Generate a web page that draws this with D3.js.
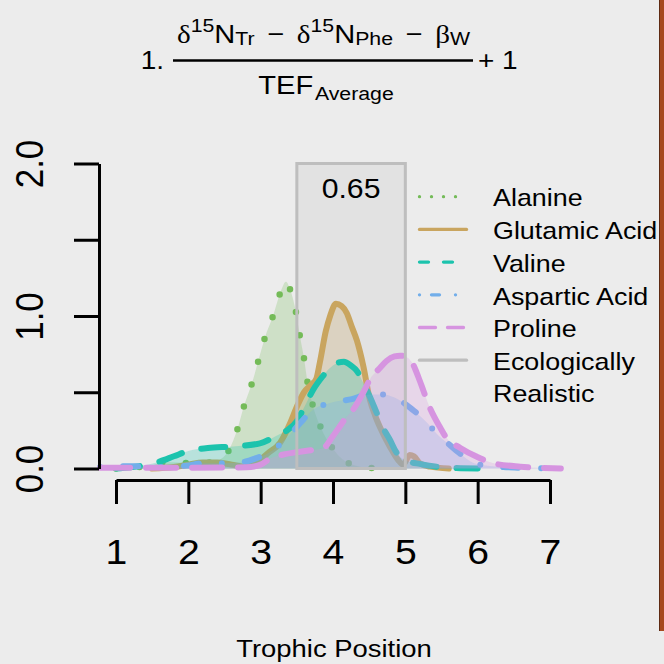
<!DOCTYPE html>
<html>
<head>
<meta charset="utf-8">
<script src="https://cdn.jsdelivr.net/npm/d3@7"></script>
<style>
  html, body { margin: 0; padding: 0; background: #ececec; }
  svg { display: block; font-family: "Liberation Sans", Arial, sans-serif; }
</style>
</head>
<body>
<svg id="chart" width="664" height="664"></svg>
<script>
// density curves: [trophic position, density]
var alanine = [[1.0,0.0],[1.3,0.008],[1.5,0.02],[1.66,0.042],[2.0,0.036],[2.32,0.04],[2.46,0.065],[2.56,0.12],[2.68,0.26],[2.77,0.41],[2.88,0.56],[2.97,0.71],[3.06,0.86],[3.17,1.0],[3.27,1.15],[3.35,1.225],[3.41,1.17],[3.49,1.02],[3.54,0.875],[3.6,0.72],[3.65,0.56],[3.72,0.415],[3.83,0.27],[4.0,0.13],[4.24,0.03],[4.5,0.005],[4.8,0.0]];
var glutamicAcid = [[1.5,0.0],[1.8,0.01],[2.0,0.025],[2.2,0.04],[2.4,0.04],[2.6,0.025],[2.8,0.012],[2.95,0.04],[3.1,0.1],[3.27,0.17],[3.41,0.3],[3.5,0.405],[3.6,0.5],[3.7,0.55],[3.77,0.59],[3.82,0.7],[3.9,0.9],[3.96,1.0],[4.04,1.08],[4.12,1.065],[4.19,1.02],[4.26,0.93],[4.33,0.84],[4.42,0.67],[4.51,0.45],[4.58,0.35],[4.65,0.27],[4.79,0.14],[4.9,0.056],[4.97,0.025],[5.06,0.088],[5.12,0.08],[5.2,0.034],[5.34,0.012],[5.6,0.0]];
var valine = [[1.0,0.0],[1.2,0.008],[1.42,0.023],[1.6,0.045],[1.8,0.08],[2.0,0.115],[2.27,0.134],[2.62,0.145],[2.99,0.165],[3.22,0.215],[3.38,0.255],[3.5,0.31],[3.6,0.4],[3.73,0.52],[3.85,0.6],[3.95,0.655],[4.05,0.69],[4.15,0.7],[4.25,0.675],[4.33,0.64],[4.42,0.56],[4.51,0.47],[4.6,0.37],[4.7,0.26],[4.79,0.185],[4.87,0.11],[4.93,0.075],[5.05,0.045],[5.2,0.03],[5.43,0.012],[5.7,0.003],[6.0,0.0]];
var asparticAcid = [[0.78,0.01],[1.2,0.015],[1.6,0.01],[2.0,0.02],[2.2,0.035],[2.45,0.035],[2.78,0.045],[2.95,0.07],[3.1,0.1],[3.25,0.15],[3.4,0.22],[3.55,0.3],[3.71,0.38],[3.96,0.43],[4.26,0.455],[4.5,0.485],[4.7,0.485],[4.85,0.465],[5.09,0.39],[5.3,0.3],[5.45,0.22],[5.6,0.16],[5.75,0.1],[5.95,0.035],[6.2,0.015],[6.6,0.005],[7.0,0.0]];
var proline = [[0.78,0.005],[2.0,0.005],[2.8,0.008],[3.0,0.025],[3.13,0.065],[3.3,0.09],[3.54,0.11],[3.7,0.12],[3.87,0.135],[3.98,0.2],[4.1,0.28],[4.19,0.34],[4.26,0.375],[4.42,0.5],[4.53,0.6],[4.63,0.65],[4.74,0.705],[4.85,0.735],[4.93,0.74],[5.02,0.73],[5.11,0.68],[5.18,0.6],[5.25,0.51],[5.32,0.42],[5.48,0.27],[5.57,0.2],[5.76,0.135],[5.99,0.077],[6.22,0.034],[6.59,0.012],[6.9,0.004],[7.15,0.0]];

var seriesData = [alanine, glutamicAcid, valine, asparticAcid, proline];
var legendLabels = ["Alanine", "Glutamic Acid", "Valine", "Aspartic Acid", "Proline", "Ecologically", "Realistic"];

var xTicks = [1, 2, 3, 4, 5, 6, 7];
var yTicks = [0, 0.5, 1, 1.5, 2];
var yTickLabels = ["0.0", "", "1.0", "", "2.0"];

var realisticRange = [3.5, 5.0]; // ecologically realistic band
var realisticLabel = "0.65";
var xTitle = "Trophic Position";

// styles
var lineColors = ["#74bb58", "#c9a55f", "#1cc3ad", "#72aeea", "#d694e0", "#bebebe"];
var curveWidth = [6.5, 6, 6, 6, 6];
var curveDash = ["0 23.5", null, "24 20", "0 23 15 23", "30 16"];
var legendDash = ["0 12", null, "9 15", "0 12 8 16", "16 12", null];
var sx = 1.12; // text is a bit wide in the original

var svg = d3.select("#chart");

var x = d3.scaleLinear().domain([1, 7]).range([116, 550]);
var y = d3.scaleLinear().domain([0, 2]).range([468.5, 163.5]);

// right edge frame strip
svg.append("rect").attr("x", 659).attr("y", 0).attr("width", 5).attr("height", 631).attr("fill", "#a6481e");
svg.append("rect").attr("x", 659).attr("y", 0).attr("width", 1).attr("height", 631).attr("fill", "#5e2a12");

/*==== formula ====*/
function stext(g, tx, ty, size) {
    return g.append("text")
        .attr("transform", "translate(" + tx + "," + ty + ") scale(" + sx + ",1)")
        .attr("font-size", size)
        .attr("fill", "#000");
}

function piece(t, s, size, dy, serif, dx) {
    var sp = t.append("tspan").text(s).attr("font-size", size);
    if (dy) sp.attr("dy", dy);
    if (dx) sp.attr("dx", dx);
    if (serif) sp.attr("font-family", "'Liberation Serif', serif");
    return sp;
}

var num = stext(svg, 323.5, 43.3, 26).attr("text-anchor", "middle");
piece(num, "\u03b4", 26, 0, true);
piece(num, "15", 19, -11.5);
piece(num, "N", 26, 11.5);
piece(num, "Tr", 19, 1.5);
piece(num, " \u2212 ", 26, -1.5, false, 4);
piece(num, "\u03b4", 26, 0, true, 4);
piece(num, "15", 19, -11.5);
piece(num, "N", 26, 11.5);
piece(num, "Phe", 19, 1.5);
piece(num, " \u2212 ", 26, -1.5, false, 4);
piece(num, "\u03b2", 26, 0, true, 4);
piece(num, "W", 19, 1.5);

svg.append("line").attr("x1", 173).attr("x2", 473).attr("y1", 60.5).attr("y2", 60.5)
    .attr("stroke", "#000").attr("stroke-width", 2.5);

var den = stext(svg, 326, 93.5, 26).attr("text-anchor", "middle");
piece(den, "TEF", 26, 0);
piece(den, "Average", 19, 6.5, false, 1.5);

stext(svg, 164, 68.5, 25).attr("text-anchor", "end").text("1.");
stext(svg, 478, 68.5, 25).attr("text-anchor", "start").text("+ 1");

/*==== realistic band ====*/
svg.append("rect")
    .attr("x", x(realisticRange[0])).attr("y", y(2))
    .attr("width", x(realisticRange[1]) - x(realisticRange[0]))
    .attr("height", y(0) - y(2))
    .attr("fill", "#e2e2e2");

/*==== density curves ====*/
var area = d3.area()
    .x(function (d) { return x(d[0]); })
    .y0(y(0))
    .y1(function (d) { return y(d[1]); })
    .curve(d3.curveMonotoneX);
var line = d3.line()
    .x(function (d) { return x(d[0]); })
    .y(function (d) { return y(d[1]); })
    .curve(d3.curveMonotoneX);

seriesData.forEach(function (s, i) {
    svg.append("path").attr("d", area(s))
        .attr("fill", lineColors[i]).attr("fill-opacity", 0.25).attr("stroke", "none");
    var p = svg.append("path").attr("d", line(s))
        .attr("fill", "none")
        .attr("stroke", lineColors[i])
        .attr("stroke-width", curveWidth[i])
        .attr("stroke-linecap", "round")
        .attr("stroke-linejoin", "round");
    if (curveDash[i]) p.attr("stroke-dasharray", curveDash[i]);
});

// band outline on top
svg.append("rect")
    .attr("x", x(realisticRange[0])).attr("y", y(2))
    .attr("width", x(realisticRange[1]) - x(realisticRange[0]))
    .attr("height", y(0) - y(2))
    .attr("fill", "none").attr("stroke", lineColors[5]).attr("stroke-width", 3);

stext(svg, (x(realisticRange[0]) + x(realisticRange[1])) / 2, 198, 27)
    .attr("text-anchor", "middle").text(realisticLabel);

/*==== axes ====*/
var gx = svg.append("g").attr("transform", "translate(0,480)")
    .call(d3.axisBottom(x).tickValues(xTicks).tickSize(24).tickSizeOuter(0).tickFormat(d3.format("d")));
gx.attr("font-family", null).attr("font-size", null);
gx.select(".domain").attr("stroke", "#000").attr("stroke-width", 3);
gx.selectAll(".tick line").attr("stroke", "#000").attr("stroke-width", 3);
gx.selectAll(".tick text")
    .attr("y", null).attr("dy", null)
    .attr("fill", "#000").attr("font-size", 35)
    .attr("transform", "translate(0,84) scale(" + sx + ",1)");

var gy = svg.append("g").attr("transform", "translate(99,0)")
    .call(d3.axisLeft(y).tickValues(yTicks).tickSize(25).tickSizeOuter(0)
        .tickFormat(function (d, i) { return yTickLabels[i]; }));
gy.attr("font-family", null).attr("font-size", null);
gy.select(".domain").attr("stroke", "#000").attr("stroke-width", 3);
gy.selectAll(".tick line").attr("stroke", "#000").attr("stroke-width", 3);
gy.selectAll(".tick text")
    .attr("x", null).attr("dy", null)
    .attr("fill", "#000").attr("font-size", 35)
    .attr("text-anchor", "middle")
    .attr("transform", "translate(-56,0) scale(" + sx + ",1) rotate(-90)");

stext(svg, 334, 657, 24.5).attr("text-anchor", "middle").text(xTitle);

/*==== legend ====*/
var legendTop = 196.7, legendStep = 32.7;
for (var i = 0; i < 6; i++) {
    var ly = legendTop + i * legendStep;
    var l = svg.append("line")
        .attr("x1", 419.5).attr("x2", 466.5).attr("y1", ly).attr("y2", ly)
        .attr("stroke", lineColors[i]).attr("stroke-width", 3.3)
        .attr("stroke-linecap", "round");
    if (legendDash[i]) l.attr("stroke-dasharray", legendDash[i]);
}
legendLabels.forEach(function (lab, i) {
    var ty = i < 6 ? legendTop + i * legendStep + 9.7 : legendTop + 5 * legendStep + 9.7 + 31.7;
    stext(svg, 493, ty, 24).attr("text-anchor", "start").text(lab);
});
</script>
</body>
</html>
